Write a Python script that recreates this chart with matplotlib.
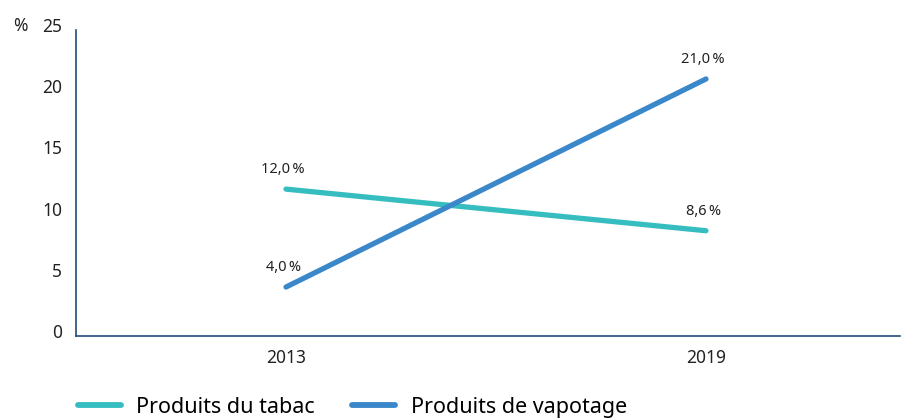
import matplotlib.pyplot as plt
import matplotlib.transforms as mtransforms

years = ['2013', '2019']
tabac = [12.0, 8.6]
vapotage = [4.0, 21.0]
series_names = ['Produits du tabac', 'Produits de vapotage']
yticks = [0, 5, 10, 15, 20, 25]

plt.rcParams['font.family'] = ['Noto Sans', 'DejaVu Sans']

teal = '#35bdbf'
blue = '#3a87c9'
axis_col = '#1f4e79'

fig = plt.figure(figsize=(9.02, 4.19), dpi=100)
ax = fig.add_axes([76 / 902, 1 - 336 / 419, 824 / 902, 306 / 419])

x = range(len(years))
ax.plot(x, tabac, color=teal, lw=3.8, solid_capstyle='round', label=series_names[0])
ax.plot(x, vapotage, color=blue, lw=3.8, solid_capstyle='round', label=series_names[1])

# value labels above each point
for vals in (tabac, vapotage):
    for i, v in enumerate(vals):
        ax.annotate(f'{v:.1f}'.replace('.', ',') + '\u2009%', (i, v),
                    xytext=(-2, 14), textcoords='offset points',
                    ha='center', va='center', fontsize=10.5, color='#222222')

ax.set_xlim(-0.5, 1.462)
ax.set_ylim(0, 25)
ax.set_xticks(list(x))
ax.set_xticklabels(years)
ax.set_yticks(yticks)
ax.tick_params(length=0, labelsize=12.5, colors='#222222')
ax.tick_params(axis='x', pad=9)
ax.tick_params(axis='y', pad=10)
# tick labels sit a little above their ticks in the original
for lab in ax.get_yticklabels():
    lab.set_transform(lab.get_transform() + mtransforms.ScaledTranslation(0, 5 / 100, fig.dpi_scale_trans))

for s in ['top', 'right']:
    ax.spines[s].set_visible(False)
for s in ['left', 'bottom']:
    ax.spines[s].set_color(axis_col)
    ax.spines[s].set_linewidth(1.2)

fig.text(20 / 902, 1 - 26 / 419, '%', fontsize=12.5, ha='center', va='center', color='#222222')

leg = fig.legend(loc='center left', bbox_to_anchor=(78 / 902, 1 - 407 / 419), ncol=2,
                 frameon=False, fontsize=15.5, handlelength=2.0, handletextpad=0.7,
                 columnspacing=1.75, borderaxespad=0, borderpad=0)
for h in leg.get_lines():
    h.set_linewidth(4.2)

fig.savefig('out.png', dpi=100)
